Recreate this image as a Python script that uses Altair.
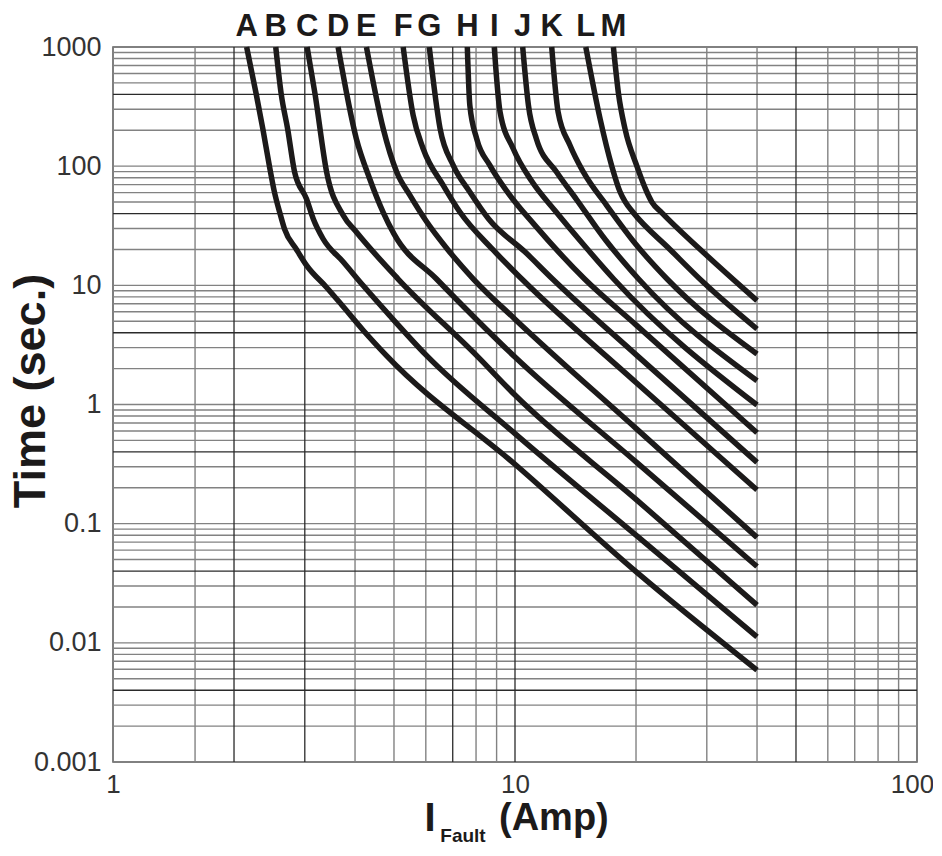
import altair as alt
import pandas as pd

# ---- curve data (I in Amp, t in seconds) ----
curve_names = ["A", "B", "C", "D", "E", "F", "G", "H", "I", "J", "K", "L", "M"]

A_i = [2.15, 2.27, 2.36, 2.45, 2.52, 2.60, 2.67, 2.86, 3.03, 3.40, 3.70, 4.19, 4.79, 10.1, 20.1, 40]
A_t = [1000, 406, 204, 100, 61, 40.6, 29.8, 20, 14.7, 9.6, 6.9, 4.2, 2.57, 0.306, 0.039, 0.0059]

B_i = [2.54, 2.62, 2.72, 2.83, 3.03, 3.15, 3.33, 3.74, 4.19, 4.88, 6.03, 10, 20, 40]
B_t = [1000, 406, 204, 89, 53, 36, 24.6, 15.7, 9.96, 5.57, 2.57, 0.57, 0.08, 0.0112]

C_i = [3.04, 3.18, 3.40, 3.74, 4.03, 5.12, 8.03, 10, 20, 40]
C_t = [1000, 406, 89, 38.6, 28, 11.3, 2.57, 1.2, 0.16, 0.0207]

D_i = [3.63, 4.03, 4.35, 4.70, 5.0, 6.38, 8.1, 10, 20, 40]
D_t = [1000, 170, 78.5, 41, 27, 11.3, 5.0, 2.5, 0.33, 0.0437]

E_i = [4.27, 4.70, 5.08, 5.48, 6.0, 6.8, 7.88, 10, 20, 40]
E_t = [1000, 207, 89, 56.9, 35, 20, 11.3, 5.2, 0.63, 0.0766]

F_i = [5.27, 5.58, 5.91, 6.63, 7.30, 8.8, 10.4, 20, 40]
F_t = [1000, 267, 140, 69, 41, 20, 11.3, 1.53, 0.192]

G_i = [6.12, 6.51, 7.02, 7.72, 8.6, 10.6, 12.4, 20, 40]
G_t = [1000, 207, 101.6, 60.7, 36, 19, 11.3, 2.62, 0.327]

H_i = [7.61, 7.72, 8.03, 8.66, 9.6, 11.2, 14.9, 20, 40]
H_t = [1000, 324, 170, 101.6, 60, 32, 11.3, 4.66, 0.58]

I_i = [8.88, 9.18, 9.90, 11.0, 12.6, 14.8, 17.6, 40]
I_t = [1000, 285, 140, 75, 42, 22, 11.3, 0.99]

J_i = [10.45, 10.8, 11.3, 12.7, 14.2, 16.8, 20.3, 40]
J_t = [1000, 324, 170, 89, 53, 24, 11.3, 1.58]

K_i = [12.34, 12.8, 13.7, 14.8, 16.9, 20, 23.9, 40]
K_t = [1000, 285, 150, 89, 46.9, 22, 11.3, 2.65]

L_i = [15.0, 16.28, 17.41, 18.26, 18.79, 19.7, 24.3, 29.5, 40]
L_t = [1000, 250, 100, 60.7, 50.3, 40.6, 20, 10.5, 4.3]

M_i = [17.57, 18.09, 18.79, 20.1, 21.28, 21.9, 23.2, 28.9, 40]
M_t = [1000, 406, 204, 100, 60.7, 50, 40.6, 20, 7.45]

series = {
    "A": (A_i, A_t), "B": (B_i, B_t), "C": (C_i, C_t), "D": (D_i, D_t),
    "E": (E_i, E_t), "F": (F_i, F_t), "G": (G_i, G_t), "H": (H_i, H_t),
    "I": (I_i, I_t), "J": (J_i, J_t), "K": (K_i, K_t), "L": (L_i, L_t),
    "M": (M_i, M_t),
}

# ---- grid values ----
x_grid_light = [1.6, 4, 5, 6, 8, 9, 20, 30, 40, 60, 70, 80, 90]
x_grid_dark = [2, 3, 7, 10, 50]
y_decades = [0.001, 0.01, 0.1, 1, 10, 100]
y_multipliers = [1, 2, 3, 5, 6, 7, 8, 9]
y_dark_multiplier = 4

x_tick_values = [1, 10, 100]
y_tick_values = [0.001, 0.01, 0.1, 1, 10, 100, 1000]

# ---- tables ----
rows = []
for name in curve_names:
    xs, ys = series[name]
    for k, (xi, yi) in enumerate(zip(xs, ys)):
        rows.append({"curve": name, "idx": k, "I": xi, "t": yi})
df = pd.DataFrame(rows)

tops = pd.DataFrame({"curve": curve_names, "I": [series[n][0][0] for n in curve_names]})

y_light = [d * m for d in y_decades for m in y_multipliers] + [1000]
y_dark = [d * y_dark_multiplier for d in y_decades]

FONT = "Liberation Sans"
INK = "#1c1a1a"

xs_ = alt.Scale(type="log", domain=[1, 100], nice=False)
ys_ = alt.Scale(type="log", domain=[0.001, 1000], nice=False)

x_axis = alt.Axis(values=x_tick_values, format="~g", grid=False, ticks=False,
                  domain=False, title=None, labelFont=FONT, labelFontSize=26,
                  labelColor="#333333", labelPadding=9, labelFlush=False,
                  labelOffset={"condition": {"test": "datum.value >= 100", "value": -5},
                               "value": 0})
y_axis = alt.Axis(values=y_tick_values, format="~g", grid=False, ticks=False,
                  domain=False, title=None, labelFont=FONT, labelFontSize=27,
                  labelColor="#333333", labelPadding=12)

vlight = alt.Chart(pd.DataFrame({"v": x_grid_light})).mark_rule(
    color="#828282", strokeWidth=1.4).encode(x=alt.X("v:Q", scale=xs_, axis=x_axis))
vdark = alt.Chart(pd.DataFrame({"v": x_grid_dark})).mark_rule(
    color="#2a2a2a", strokeWidth=1.3).encode(x=alt.X("v:Q", scale=xs_, axis=x_axis))
hlight = alt.Chart(pd.DataFrame({"v": y_light})).mark_rule(
    color="#828282", strokeWidth=1.4).encode(y=alt.Y("v:Q", scale=ys_, axis=y_axis))
hdark = alt.Chart(pd.DataFrame({"v": y_dark})).mark_rule(
    color="#2a2a2a", strokeWidth=1.3).encode(y=alt.Y("v:Q", scale=ys_, axis=y_axis))

lines = alt.Chart(df).mark_line(
    color=INK, strokeWidth=5.5, interpolate="monotone", strokeCap="butt"
).encode(
    x=alt.X("I:Q", scale=xs_, axis=x_axis),
    y=alt.Y("t:Q", scale=ys_, axis=y_axis),
    detail="curve:N",
    order="idx:Q",
)

letters = alt.Chart(tops).mark_text(
    font=FONT, fontSize=31, fontWeight="bold", color=INK, baseline="middle"
).encode(x=alt.X("I:Q", scale=xs_, axis=x_axis), y=alt.value(-20), text="curve:N")

ytitle = alt.Chart(pd.DataFrame({"s": ["Time (sec.)"]})).mark_text(
    font=FONT, fontSize=45, fontWeight="bold", angle=270, color=INK,
    baseline="middle", align="center"
).encode(x=alt.value(-82), y=alt.value(344), text="s:N")

xt_I = alt.Chart(pd.DataFrame({"s": ["I"]})).mark_text(
    font=FONT, fontSize=40, fontWeight="bold", color=INK,
    baseline="middle", align="center"
).encode(x=alt.value(317), y=alt.value(772), text="s:N")
xt_sub = alt.Chart(pd.DataFrame({"s": ["Fault"]})).mark_text(
    font=FONT, fontSize=19, fontWeight="bold", color=INK,
    baseline="middle", align="center"
).encode(x=alt.value(350), y=alt.value(789), text="s:N")
xt_amp = alt.Chart(pd.DataFrame({"s": ["(Amp)"]})).mark_text(
    font=FONT, fontSize=38, fontWeight="bold", color=INK,
    baseline="middle", align="left"
).encode(x=alt.value(386), y=alt.value(772), text="s:N")

chart = alt.layer(
    hlight, vlight, hdark, vdark, lines, letters, ytitle, xt_I, xt_sub, xt_amp
).properties(
    width=804, height=715,
    autosize=alt.AutoSizeParams(type="none"),
    padding={"left": 105, "top": 39, "right": 16, "bottom": 90},
).configure_view(stroke="#555555", strokeWidth=1.5)

chart.save("out.html", embed_options={"renderer": "svg", "actions": False})
